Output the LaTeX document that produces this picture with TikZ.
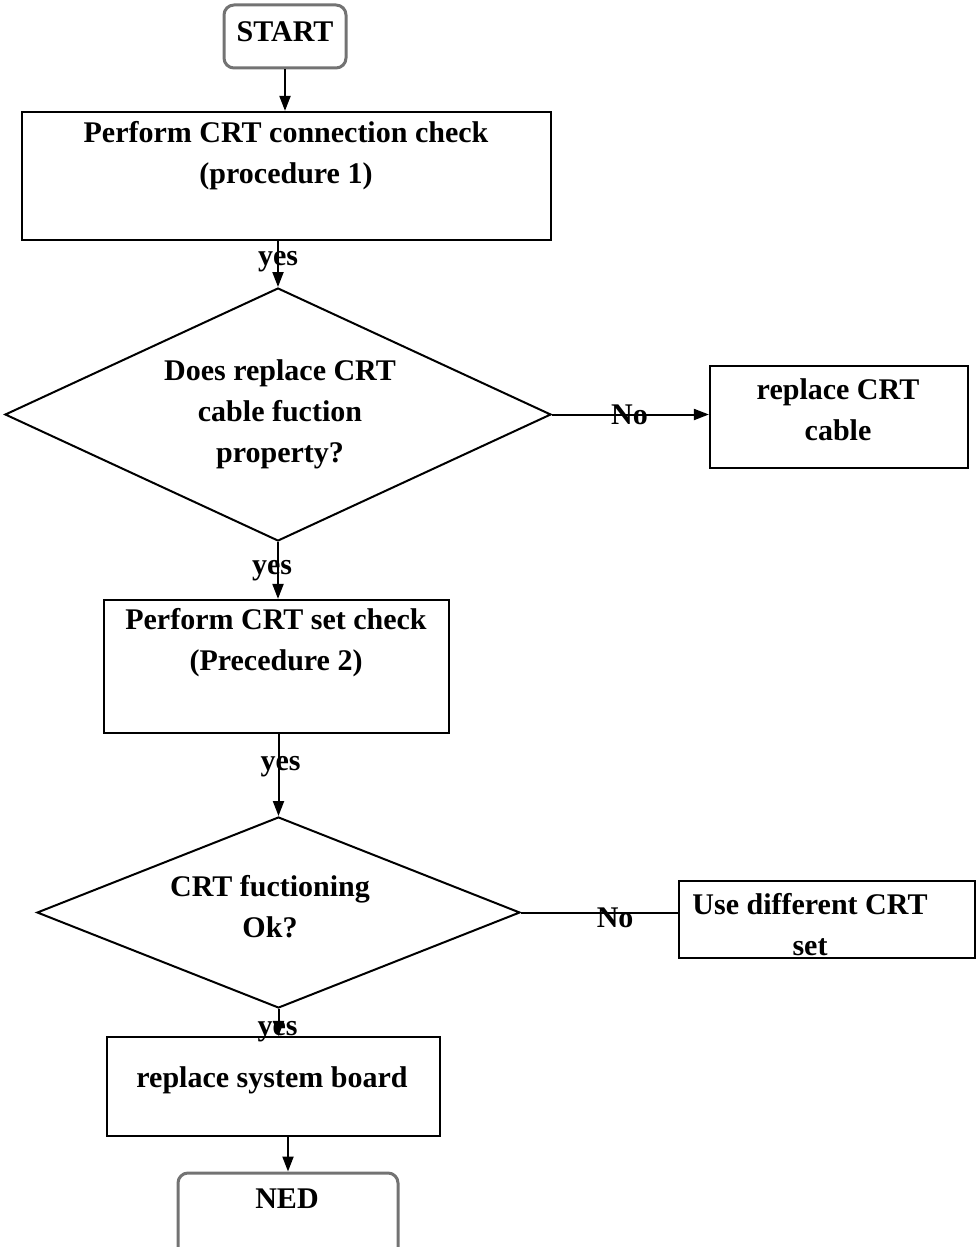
\documentclass[tikz,border=0pt]{standalone}
\usepackage{fontspec}
\setmainfont{Liberation Serif}
\usetikzlibrary{arrows.meta,shapes.geometric}

\tikzset{
    lbl/.style={font=\bfseries\fontsize{30}{41}\selectfont, align=center, inner sep=0pt},
    box/.style={draw, line width=2.2pt, inner sep=0pt},
    term/.style={draw=black!55, line width=3pt, rounded corners=10pt, inner sep=0pt},
    test/.style={draw, line width=2pt, diamond, inner sep=0pt},
    link/.style={line width=2pt},
    flow/.style={link, -{Triangle[length=15pt,width=11pt]}},
}

\begin{document}
\begin{tikzpicture}[x=1pt,y=-1pt]
    \useasboundingbox (0,0) rectangle (977,1247);

    % start / end
    \node[term, minimum width=122, minimum height=63] (start) at (285,36.5) {};
    \node[lbl] (startT) at (285,32) {START};
    \node[term, minimum width=220, minimum height=90] (stop) at (288,1218) {};
    \node[lbl] (stopT) at (287,1199) {NED};

    % process boxes
    \node[box, minimum width=529, minimum height=128] (conn) at (286.5,176) {};
    \node[lbl] (connT) at (286,156) {Perform CRT connection check\\(procedure 1)};

    \node[box, minimum width=258, minimum height=102] (cable) at (839,417) {};
    \node[lbl] (cableT) at (838,410) {replace CRT\\cable};

    \node[box, minimum width=345, minimum height=133] (set) at (276.5,666.5) {};
    \node[lbl] (setT) at (276,643) {Perform CRT set check\\(Precedure 2)};

    \node[box, minimum width=296, minimum height=77] (diff) at (827,919.5) {};
    \node[lbl] (diffT) at (810,925) {Use different CRT\\set};

    \node[box, minimum width=333, minimum height=99] (board) at (273.5,1086.5) {};
    \node[lbl] (boardT) at (272,1080) {replace system board};

    % decisions
    \node[test, minimum width=546, minimum height=253] (q1) at (278,414.5) {};
    \node[lbl] (q1T) at (280,414) {Does replace CRT\\cable fuction\\property?};

    \node[test, minimum width=483, minimum height=191] (q2) at (278.5,912.5) {};
    \node[lbl] (q2T) at (270,907) {CRT fuctioning\\Ok?};

    % connectors
    \draw[flow] (start) -- (start |- conn.north);
    \draw[flow] (conn.south -| q1.north) -- (q1.north) node[lbl, pos=0.45] (y1) {yes};
    \draw[flow] (q1.east) -- (q1.east -| cable.west) node[lbl, midway, xshift=-1pt] (n1) {No};
    \draw[flow] (q1.south) -- (set.north -| q1.south) node[lbl, midway, xshift=-6pt] (y2) {yes};
    \draw[flow] (set.south -| q2.north) -- (q2.north) node[lbl, pos=0.4, xshift=2pt] (y3) {yes};
    \draw[link] (q2.east) -- (q2.east -| diff.west) node[lbl, pos=0.6, yshift=-5pt] (n2) {No};
    \draw[flow] (q2.south) -- (board.north -| q2.south) node[lbl, pos=0.85, xshift=-1pt] (y4) {yes};
    \draw[flow] (board.south -| stop.north) -- (stop.north);
\end{tikzpicture}
\end{document}
